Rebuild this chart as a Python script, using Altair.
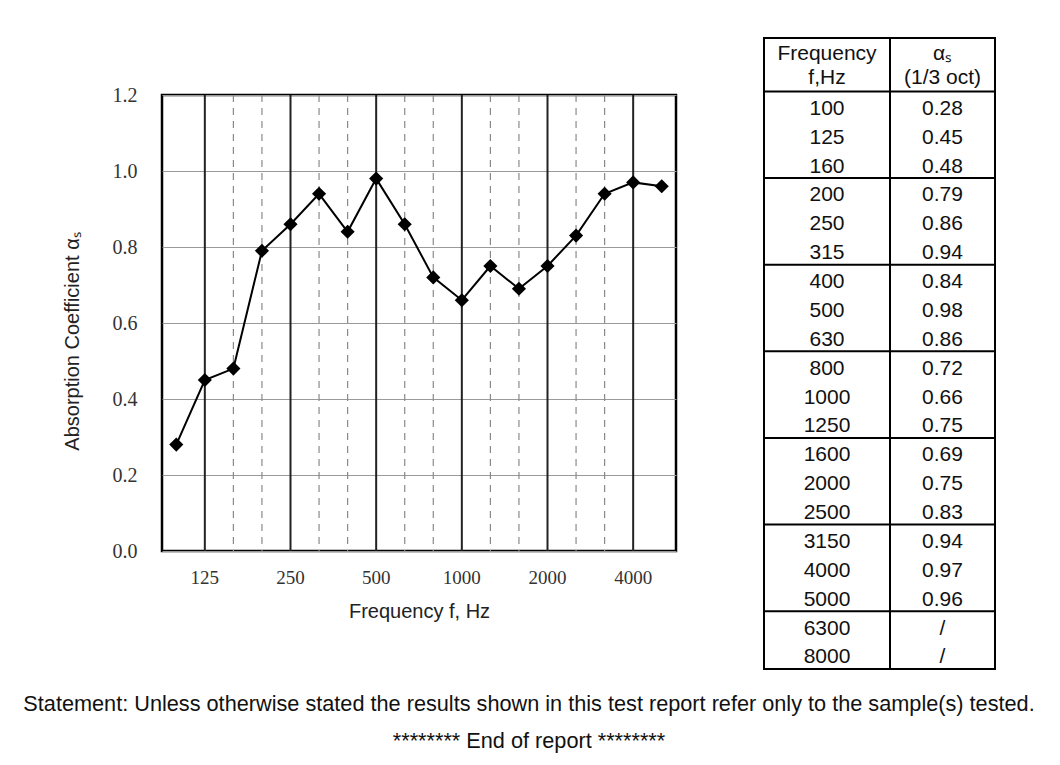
import altair as alt
import pandas as pd

# ---------------- data ----------------
freqs = ["100", "125", "160", "200", "250", "315", "400", "500", "630", "800",
         "1000", "1250", "1600", "2000", "2500", "3150", "4000", "5000"]
alpha = [0.28, 0.45, 0.48, 0.79, 0.86, 0.94, 0.84, 0.98, 0.86, 0.72,
         0.66, 0.75, 0.69, 0.75, 0.83, 0.94, 0.97, 0.96]
table_freqs = freqs + ["6300", "8000"]
table_alpha = ["0.28", "0.45", "0.48", "0.79", "0.86", "0.94", "0.84", "0.98", "0.86",
               "0.72", "0.66", "0.75", "0.69", "0.75", "0.83", "0.94", "0.97", "0.96",
               "/", "/"]
octave_freqs = ["125", "250", "500", "1000", "2000", "4000"]
third_freqs = [f for f in freqs[1:-1] if f not in octave_freqs]
y_ticks = [0.0, 0.2, 0.4, 0.6, 0.8, 1.0, 1.2]
header_freq = ["Frequency", "f,Hz"]
header_alpha = ["αₛ", "(1/3 oct)"]
footer = ["Statement: Unless otherwise stated the results shown in this test report refer only to the sample(s) tested.",
          "******** End of report ********"]

# ---------------- layout constants ----------------
PLOT_W, PLOT_H = 514, 456
TAB_X0, TAB_Y0 = 602, -57      # table offset from the plot's top-left corner
TAB_W, TAB_H = 231, 631
COL_SPLIT = 126                # width of first table column
HEAD_UNITS = 1.85              # header height in row units
GROUP = 3                      # rows per group in the table
SERIF = "Liberation Serif"
SANS = "Liberation Sans"

# ---------------- plot layers ----------------
df = pd.DataFrame({"f": freqs, "a": alpha})
xscale = alt.Scale(domain=freqs, padding=0)
x_enc = alt.X("f:O", scale=xscale, sort=None,
              axis=alt.Axis(values=octave_freqs, title="Frequency f, Hz", labelAngle=0,
                            ticks=False, tickSize=0, domain=False, grid=False,
                            labelFont=SERIF, labelFontSize=19, labelColor="#333",
                            labelPadding=17, titleFont=SANS, titleFontSize=20,
                            titleFontWeight="normal", titleColor="#222", titlePadding=14))
y_enc = alt.Y("a:Q", scale=alt.Scale(domain=[0, 1.2], nice=False, zero=True),
              axis=alt.Axis(values=y_ticks, format=".1f", title="Absorption Coefficient αₛ",
                            ticks=False, tickSize=0, domain=False, grid=True,
                            gridColor="#9a9a9a", gridWidth=1,
                            labelFont=SERIF, labelFontSize=20, labelColor="#333",
                            labelPadding=25, titleFont=SANS, titleFontSize=20,
                            titleFontWeight="normal", titleColor="#222", titlePadding=30,
                            titleY=PLOT_H / 2 + 18))

base = alt.Chart(df)
line = base.mark_line(color="black", strokeWidth=2).encode(x=x_enc, y=y_enc)
pts = base.mark_point(shape="diamond", filled=True, color="black", size=200,
                      opacity=1).encode(x=x_enc, y=y_enc)

solid_rules = alt.Chart(pd.DataFrame({"f": octave_freqs})).mark_rule(
    color="#222", strokeWidth=2).encode(x=x_enc)
dash_rules = alt.Chart(pd.DataFrame({"f": third_freqs})).mark_rule(
    color="#8a8a8a", strokeWidth=1.2, strokeDash=[7, 6]).encode(x=x_enc)

plot_layers = alt.layer(dash_rules, solid_rules, line, pts)

# ---------------- table layers ----------------
n_rows = len(table_freqs)
total_units = HEAD_UNITS + n_rows
tx = alt.Scale(domain=[0, TAB_W], range=[TAB_X0, TAB_X0 + TAB_W], nice=False, zero=False)
ty = alt.Scale(domain=[0, total_units], range=[TAB_Y0, TAB_Y0 + TAB_H], nice=False, zero=False)
c1 = COL_SPLIT / 2
c2 = COL_SPLIT + (TAB_W - COL_SPLIT) / 2

cells = pd.DataFrame({
    "text": table_freqs + table_alpha + header_freq + header_alpha,
    "c": [c1] * n_rows + [c2] * n_rows + [c1, c1, c2, c2],
    "row": [HEAD_UNITS + i + 0.6 for i in range(n_rows)] * 2 + [0.55, 1.4, 0.55, 1.4],
})
txt = dict(font=SANS, fontSize=21, color="#111", baseline="middle", align="center")
cell_text = alt.Chart(cells).mark_text(**txt).encode(
    x=alt.X("c:Q", scale=tx, axis=None),
    y=alt.Y("row:Q", scale=ty, axis=None),
    text="text:N")

group_lines = [HEAD_UNITS] + [HEAD_UNITS + GROUP * k for k in range(1, (n_rows - 1) // GROUP + 1)]
hl = pd.DataFrame({"y": group_lines, "x0": 0, "x1": TAB_W})
h_rules = alt.Chart(hl).mark_rule(color="black", strokeWidth=2).encode(
    x=alt.X("x0:Q", scale=tx, axis=None), x2="x1:Q",
    y=alt.Y("y:Q", scale=ty, axis=None))
vl = pd.DataFrame({"x": [COL_SPLIT], "y0": 0, "y1": total_units})
v_rules = alt.Chart(vl).mark_rule(color="black", strokeWidth=2).encode(
    x=alt.X("x:Q", scale=tx, axis=None),
    y=alt.Y("y0:Q", scale=ty, axis=None), y2="y1:Q")
bd = pd.DataFrame({"x0": [0], "x1": [TAB_W], "y0": [0], "y1": [total_units]})
border = alt.Chart(bd).mark_rect(fill=None, stroke="black", strokeWidth=2).encode(
    x=alt.X("x0:Q", scale=tx, axis=None), x2="x1:Q",
    y=alt.Y("y0:Q", scale=ty, axis=None), y2="y1:Q")

table_layers = alt.layer(border, h_rules, v_rules, cell_text)

chart = alt.layer(plot_layers, table_layers).resolve_scale(
    x="independent", y="independent"
).properties(
    width=PLOT_W, height=PLOT_H,
    padding={"left": 15, "top": 29, "right": 5, "bottom": 5},
    title=alt.TitleParams(footer, orient="bottom", anchor="middle", frame="bounds",
                          font=SANS, fontSize=21.7, fontWeight="normal", color="#111",
                          lineHeight=37, offset=24),
).configure(background="white").configure_view(stroke="black", strokeWidth=2.5)

chart.save("out.html", embed_options={"renderer": "svg", "actions": False})
